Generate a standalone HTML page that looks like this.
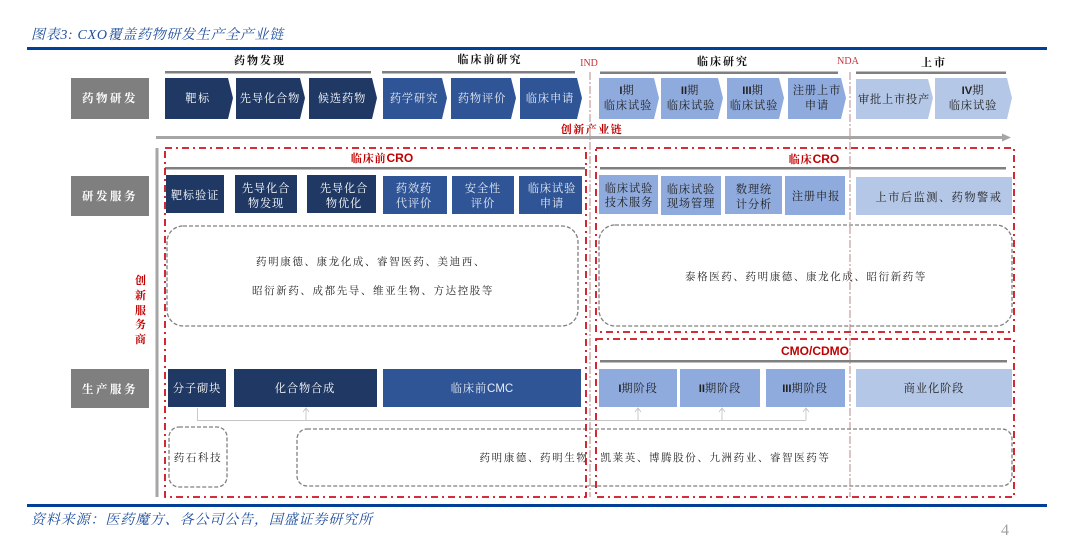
<!DOCTYPE html>
<html lang="zh"><head><meta charset="utf-8"><style>
html,body{margin:0;padding:0;background:#fff;width:1080px;height:551px;overflow:hidden}
svg{display:block;filter:blur(.35px)}
text{font-family:"Liberation Serif","Noto Serif CJK SC",serif;text-anchor:middle;letter-spacing:.9px}
.w{fill:#fff;font-size:11.2px}
.wd{fill:#e8ecf4;font-size:11.2px}
.k{fill:#222;font-size:11.2px}
.b{fill:#222;font-size:10.5px;letter-spacing:1.6px}
.h{fill:#111;font-size:11px;font-weight:700;letter-spacing:2px}
.r{fill:#c00000;font-size:11px;font-weight:700}
.sans{font-family:"Liberation Sans","Noto Serif CJK SC",sans-serif;letter-spacing:0}
.g{fill:#fff;font-size:11.5px;font-weight:700;letter-spacing:2.5px}
.t{fill:#1f4e9c;font-size:14px;font-style:italic;text-anchor:start}
.dk{fill:#1f3864}.md{fill:#2f5597}.lt{fill:#8faadc}.ll{fill:#b4c7e7}
.red{fill:none;stroke:#d0101c;stroke-width:1.8;stroke-dasharray:7 4 2 4}
.dash{fill:#fff;stroke:#808080;stroke-width:1.3;stroke-dasharray:4 2}
.nd{stroke:#b98a88;stroke-width:1;stroke-dasharray:8 2 2 2;fill:none}
.ar{fill:none;stroke:#c4c4c4;stroke-width:.9}
</style></head><body>
<svg width="1080" height="551" viewBox="0 0 1080 551" xmlns="http://www.w3.org/2000/svg">
<text class="t" x="31" y="39" textLength="253">图表3:  CXO覆盖药物研发生产全产业链</text>
<rect x="27" y="47" width="1020" height="3" fill="#004098"/>

<text class="h" x="260" y="64">药物发现</text>
<text class="h" x="490" y="63">临床前研究</text>
<text class="h" x="723" y="65">临床研究</text>
<text class="h" x="934" y="66">上市</text>
<text x="589" y="66" style="font-size:10px;fill:#c8323c;letter-spacing:0">IND</text>
<text x="848" y="64" style="font-size:10px;fill:#c8323c;letter-spacing:0">NDA</text>
<g fill="#7f7f7f">
<rect x="165" y="71" width="206" height="2.5"/><rect x="382" y="71" width="193" height="2.5"/>
<rect x="600" y="71.500" width="238" height="2.500"/><rect x="856" y="71.500" width="150" height="2.500"/>
</g>

<g>
<rect x="71" y="78" width="78" height="41" fill="#7f7f7f"/>
<rect x="71" y="176" width="78" height="40" fill="#7f7f7f"/>
<rect x="71" y="369" width="78" height="39" fill="#7f7f7f"/>
</g>
<text class="g" x="110" y="102">药物研发</text>
<text class="g" x="110" y="200">研发服务</text>
<text class="g" x="110" y="393">生产服务</text>

<polygon class="dk" points="165,78 228,78 233,98 228,119 165,119"/>
<polygon class="dk" points="236,78 300,78 305,98 300,119 236,119"/>
<polygon class="dk" points="309,78 372,78 377,98 372,119 309,119"/>
<polygon class="md" points="383,78 442,78 447,98 442,119 383,119"/>
<polygon class="md" points="451,78 511,78 516,98 511,119 451,119"/>
<polygon class="md" points="520,78 577,78 582,98 577,119 520,119"/>
<polygon class="lt" points="599,78 654,78 659,98 654,119 599,119"/>
<polygon class="lt" points="661,78 718,78 723,98 718,119 661,119"/>
<polygon class="lt" points="727,78 779,78 784,98 779,119 727,119"/>
<polygon class="lt" points="788,78 841,78 846,98 841,119 788,119"/>
<polygon class="ll" points="856,79 928,79 933,98 928,119 856,119"/>
<polygon class="ll" points="935,78 1007,78 1012,98 1007,119 935,119"/>

<text class="w" x="198" y="102" style="letter-spacing:1.500px">靶标</text>
<text class="w" x="270" y="102">先导化合物</text>
<text class="w" x="342" y="102">候选药物</text>
<text class="wd" x="414" y="102">药学研究</text>
<text class="wd" x="482" y="102">药物评价</text>
<text class="wd" x="550" y="102">临床申请</text>
<g>
<text class="k" x="627" y="94"><tspan class="sans" style="font-weight:700">I</tspan>期</text><text class="k" x="628" y="109">临床试验</text>
<text class="k" x="690" y="94"><tspan class="sans" style="font-weight:700">II</tspan>期</text><text class="k" x="691" y="109">临床试验</text>
<text class="k" x="753" y="94"><tspan class="sans" style="font-weight:700">III</tspan>期</text><text class="k" x="754" y="109">临床试验</text>
<text class="k" x="817" y="94">注册上市</text><text class="k" x="817" y="109">申请</text>
<text class="k" x="894" y="103" style="letter-spacing:.8px">审批上市投产</text>
<text class="k" x="973" y="94"><tspan class="sans" style="font-weight:700">IV</tspan>期</text><text class="k" x="973" y="109">临床试验</text>
</g>

<text class="r" x="592" y="133" style="letter-spacing:1.500px">创新产业链</text>
<rect x="156" y="136" width="846" height="3" fill="#a6a6a6"/>
<polygon points="1002,133.500 1011,137.500 1002,141.500" fill="#a6a6a6"/>

<rect x="155.500" y="148" width="3" height="349" fill="#a6a6a6"/>
<text class="r" x="141" y="284">创</text><text class="r" x="141" y="299">新</text><text class="r" x="141" y="314">服</text><text class="r" x="141" y="328">务</text><text class="r" x="141" y="343">商</text>

<rect class="dash" x="167" y="226" width="411" height="100" rx="16"/>
<rect class="dash" x="599" y="225" width="413" height="101" rx="16"/>
<rect class="dash" x="169" y="427" width="58" height="60" rx="10"/>
<rect class="dash" x="297" y="429" width="715" height="57" rx="10"/>

<text class="b" x="371" y="265">药明康德、康龙化成、睿智医药、美迪西、</text>
<text class="b" x="373" y="294">昭衍新药、成都先导、维亚生物、方达控股等</text>
<text class="b" x="806" y="280">泰格医药、药明康德、康龙化成、昭衍新药等</text>
<text class="b" x="198" y="461">药石科技</text>
<text class="b" x="655" y="461">药明康德、药明生物、凯莱英、博腾股份、九洲药业、睿智医药等</text>

<text class="r" x="382" y="162">临床前<tspan class="sans" style="font-size:12px">CRO</tspan></text>
<text class="r" x="814" y="163">临床<tspan class="sans" style="font-size:12px">CRO</tspan></text>
<text class="r sans" x="815" y="355" style="font-size:12px">CMO/CDMO</text>
<g fill="#7f7f7f">
<rect x="165" y="167" width="420" height="2.500"/><rect x="600" y="167" width="406" height="2.500"/><rect x="600" y="360" width="407" height="2.500"/>
</g>

<rect class="dk" x="166" y="175" width="58" height="38"/>
<rect class="dk" x="235" y="175" width="62" height="38"/>
<rect class="dk" x="307" y="175" width="69" height="38"/>
<rect class="md" x="383" y="176" width="64" height="38"/>
<rect class="md" x="452" y="176" width="62" height="38"/>
<rect class="md" x="519" y="176" width="63" height="38"/>
<rect class="lt" x="599" y="175" width="59" height="39"/>
<rect class="lt" x="661" y="176" width="60" height="39"/>
<rect class="lt" x="725" y="176" width="57" height="38"/>
<rect class="lt" x="785" y="176" width="60" height="39"/>
<rect class="ll" x="856" y="177" width="156" height="38"/>

<text class="w" x="195" y="199">靶标验证</text>
<text class="w" x="266" y="192">先导化合</text><text class="w" x="266" y="207">物发现</text>
<text class="w" x="344" y="192">先导化合</text><text class="w" x="344" y="207">物优化</text>
<text class="wd" x="414" y="192">药效药</text><text class="wd" x="414" y="207">代评价</text>
<text class="wd" x="483" y="192">安全性</text><text class="wd" x="483" y="207">评价</text>
<text class="wd" x="552" y="192">临床试验</text><text class="wd" x="552" y="207">申请</text>
<text class="k" x="629" y="192">临床试验</text><text class="k" x="629" y="206">技术服务</text>
<text class="k" x="691" y="193">临床试验</text><text class="k" x="691" y="207">现场管理</text>
<text class="k" x="754" y="193">数理统</text><text class="k" x="754" y="208">计分析</text>
<text class="k" x="816" y="200">注册申报</text>
<text class="k" x="939" y="201" style="letter-spacing:1.500px">上市后监测、药物警戒</text>

<rect class="dk" x="168" y="369" width="58" height="38"/>
<rect class="dk" x="234" y="369" width="143" height="38"/>
<rect class="md" x="383" y="369" width="198" height="38"/>
<rect class="lt" x="599" y="369" width="78" height="38"/>
<rect class="lt" x="680" y="369" width="80" height="38"/>
<rect class="lt" x="766" y="369" width="79" height="38"/>
<rect class="ll" x="856" y="369" width="156" height="38"/>

<text class="w" x="197" y="392">分子砌块</text>
<text class="w" x="305" y="392">化合物合成</text>
<text class="wd" x="482" y="392">临床前<tspan class="sans" style="font-size:11.500px">CMC</tspan></text>
<text class="k" x="638" y="392"><tspan class="sans" style="font-weight:700">I</tspan>期阶段</text>
<text class="k" x="720" y="392"><tspan class="sans" style="font-weight:700">II</tspan>期阶段</text>
<text class="k" x="805" y="392"><tspan class="sans" style="font-weight:700">III</tspan>期阶段</text>
<text class="k" x="934" y="392">商业化阶段</text>

<path class="ar" d="M197.500 408V420.500H806M306 420V408M303 412L306 408L309 412M638 420V408M635 412L638 408L641 412M722 420V408M719 412L722 408L725 412M806 420V408M803 412L806 408L809 412"/>

<path class="nd" d="M590 72V497M850 72V497"/>

<rect class="red" x="165" y="148" width="421" height="349"/>
<rect class="red" x="596" y="148" width="418" height="184"/>
<rect class="red" x="596" y="339" width="418" height="158"/>

<rect x="27" y="504" width="1020" height="3" fill="#004098"/>
<text class="t" x="31" y="524" textLength="342">资料来源：医药魔方、各公司公告，国盛证券研究所</text>
<text x="1005" y="535" style="font-size:16px;fill:#a0a0a0;letter-spacing:0">4</text>
</svg>
</body></html>
